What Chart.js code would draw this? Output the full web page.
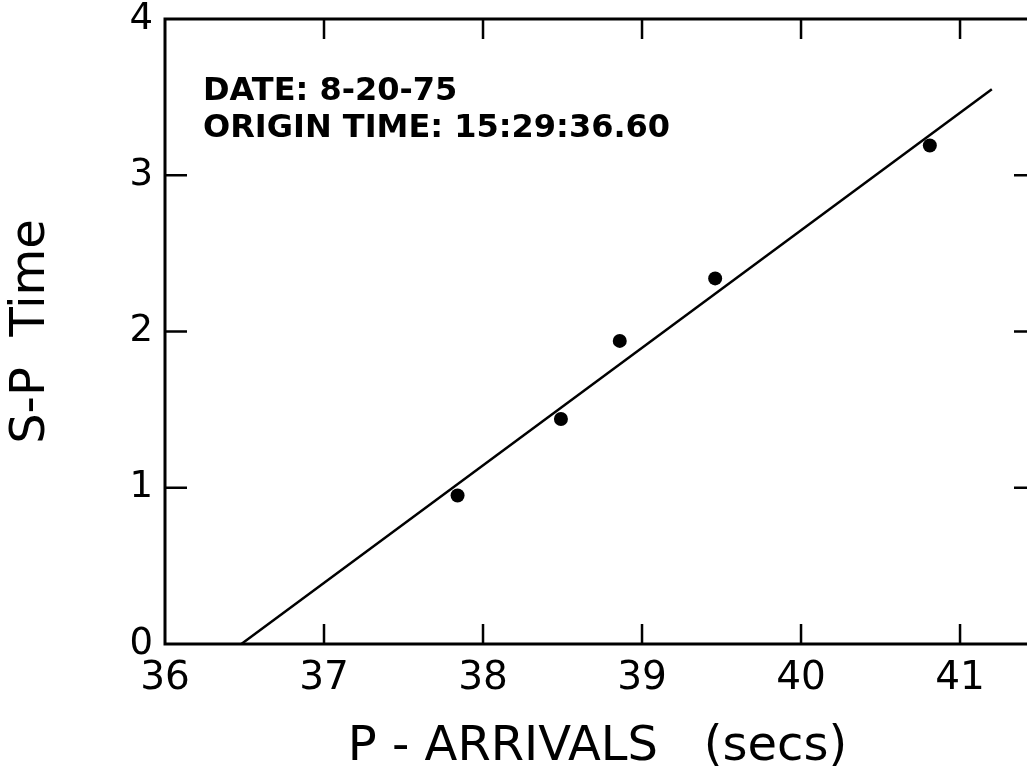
<!DOCTYPE html>
<html>
<head>
<meta charset="utf-8">
<script src="https://cdn.jsdelivr.net/npm/chart.js@4/dist/chart.umd.min.js"></script>
<style>
  html, body { margin: 0; padding: 0; background: #fff; overflow: hidden; }
  #wrap { width: 1040px; height: 782px; }
</style>
</head>
<body>
<div id="wrap"><canvas id="chart" width="1040" height="782"></canvas></div>
<script>
// measured S-P times vs P arrival seconds
const arrivalSecs = [37.84, 38.49, 38.86, 39.46, 40.81];
const spTimes = [0.95, 1.44, 1.94, 2.34, 3.19];
// fitted line end points
const fitX = [36.48, 41.2];
const fitY = [0, 3.55];
// axis ticks
const xTicks = [36, 37, 38, 39, 40, 41];
const yTicks = [0, 1, 2, 3, 4];
const noteLines = ["DATE: 8-20-75", "ORIGIN TIME: 15:29:36.60"];

const fontFamily = '"DejaVu Sans", sans-serif';

// frame, inward tick marks and the note text
const framePlugin = {
  id: "frame",
  afterDraw(chart) {
    const ctx = chart.ctx;
    const a = chart.chartArea;
    const xs = chart.scales.x;
    const ys = chart.scales.y;
    ctx.save();
    ctx.strokeStyle = "#000";
    ctx.lineWidth = 3;
    ctx.strokeRect(a.left, a.top, a.right - a.left, a.bottom - a.top);

    ctx.lineWidth = 2.5;
    ctx.beginPath();
    xTicks.forEach(function (v) {
      if (v === xTicks[0]) return;
      const px = xs.getPixelForValue(v);
      ctx.moveTo(px, a.bottom);
      ctx.lineTo(px, a.bottom - 20);
      ctx.moveTo(px, a.top);
      ctx.lineTo(px, a.top + 20);
    });
    yTicks.forEach(function (v) {
      if (v === yTicks[0] || v === yTicks[yTicks.length - 1]) return;
      const py = ys.getPixelForValue(v);
      ctx.moveTo(a.left, py);
      ctx.lineTo(a.left + 22, py);
      ctx.moveTo(a.right, py);
      ctx.lineTo(a.right - 16, py);
    });
    ctx.stroke();

    ctx.fillStyle = "#000";
    ctx.font = "bold 32px " + fontFamily;
    ctx.textBaseline = "alphabetic";
    ctx.textAlign = "left";
    noteLines.forEach(function (t, i) {
      ctx.fillText(t, a.left + 38, a.top + 81 + i * 37);
    });
    ctx.restore();
  }
};

new Chart(document.getElementById("chart"), {
  type: "scatter",
  data: {
    datasets: [
      {
        label: "fit",
        data: fitX.map((x, i) => ({ x: x, y: fitY[i] })),
        showLine: true,
        pointRadius: 0,
        borderColor: "#000",
        borderWidth: 2.5,
        fill: false
      },
      {
        label: "S-P",
        data: arrivalSecs.map((x, i) => ({ x: x, y: spTimes[i] })),
        showLine: false,
        pointRadius: 7,
        pointBackgroundColor: "#000",
        pointBorderColor: "#000",
        pointBorderWidth: 0
      }
    ]
  },
  options: {
    responsive: false,
    animation: false,
    layout: { padding: { top: 19, right: 10, left: 0, bottom: 0 } },
    plugins: {
      legend: { display: false },
      tooltip: { enabled: false }
    },
    scales: {
      x: {
        type: "linear",
        min: 36,
        max: 41.44,
        afterBuildTicks: function (s) { s.ticks = xTicks.map(v => ({ value: v })); },
        afterFit: function (s) { s.height = 138; s.paddingRight = 0; },
        grid: { display: false, drawTicks: false },
        border: { display: false },
        ticks: {
          color: "#000",
          padding: 11,
          maxRotation: 0,
          font: { family: fontFamily, size: 39 }
        },
        title: {
          display: true,
          text: "P - ARRIVALS   (secs)",
          color: "#000",
          font: { family: fontFamily, size: 48 },
          padding: { top: 0, bottom: 6 }
        }
      },
      y: {
        type: "linear",
        min: 0,
        max: 4,
        afterBuildTicks: function (s) { s.ticks = yTicks.map(v => ({ value: v })); },
        afterFit: function (s) { s.width = 165; s.paddingTop = 0; s.paddingBottom = 0; },
        grid: { display: false, drawTicks: false },
        border: { display: false },
        ticks: {
          color: "#000",
          padding: 12,
          font: { family: fontFamily, size: 37 }
        },
        title: {
          display: true,
          text: "S-P  Time",
          color: "#000",
          font: { family: fontFamily, size: 48 },
          padding: { top: 3, bottom: 0 }
        }
      }
    }
  },
  plugins: [framePlugin]
});
</script>
</body>
</html>
